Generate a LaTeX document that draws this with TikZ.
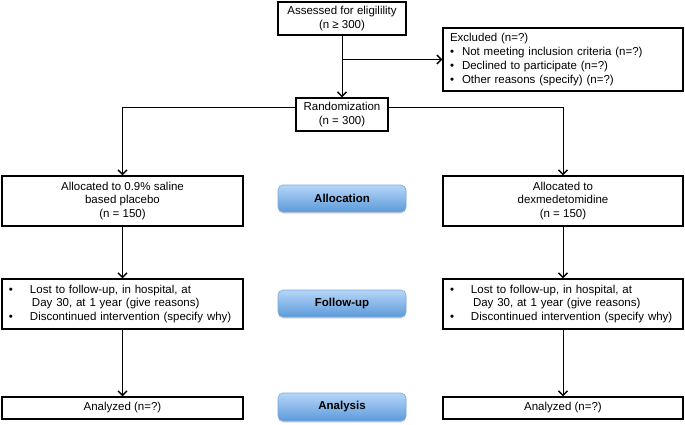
\documentclass[tikz,border=0pt]{standalone}
\usepackage{fontspec}
\setmainfont{Liberation Sans}
\usetikzlibrary{arrows.meta, shadows, positioning}

\definecolor{stagetop}{HTML}{B6D6F7}
\definecolor{stagebot}{HTML}{5C9ADB}
\definecolor{stageedge}{HTML}{7BA9DB}

\newcommand{\exbul}{\makebox[12pt][l]{\textbullet}}
\newcommand{\fubul}{\makebox[21pt][l]{\textbullet}}

\tikzset{
  flowbox/.style={draw, line width=1.4pt, inner sep=0pt, align=center},
  listbox/.style={flowbox, align=left, inner xsep=7pt},
  stagebtn/.style={rounded corners=5pt, draw=stageedge, line width=0.6pt,
    top color=stagetop, bottom color=stagebot,
    font=\fontsize{11.5}{13.8}\selectfont\bfseries,
    minimum width=128pt, minimum height=27pt,
    drop shadow={opacity=0.3, shadow xshift=0pt, shadow yshift=-1.5pt}},
  link/.style={line width=1pt, -{Straight Barb[length=4.5pt, width=9pt, line width=1.3pt]}},
}

\begin{document}
\begin{tikzpicture}[x=1pt, y=-1pt, font=\fontsize{11.5}{13.8}\selectfont]
            \useasboundingbox (0,0) rectangle (685,425);
            % enrolment
            \node[flowbox, minimum width=128pt, minimum height=33pt] (assess) at (342,18.5) {Assessed for eligilility\\(n ≥ 300)};
            \node[listbox, text width=226pt, minimum height=63pt] (excl) at (563,59.5) {Excluded (n=?)\\
                \exbul Not meeting inclusion criteria (n=?)\\
                \exbul Declined to participate (n=?)\\
                \exbul Other reasons (specify) (n=?)};
            \node[flowbox, minimum width=92pt, minimum height=33pt] (rand) at (342,114.5) {Randomization\\(n = 300)};
            \coordinate (splitL) at (122.5,108);
            \coordinate (splitR) at (563,108);
            % allocation
            \node[flowbox, minimum width=241pt, minimum height=50pt] (allocL) at (122.5,201) {Allocated to 0.9\% saline\\based placebo\\(n = 150)};
            \node[flowbox, minimum width=240pt, minimum height=50pt] (allocR) at (563,201) {Allocated to\\dexmedetomidine\\(n = 150)};
            \node[stagebtn] (allocBtn) at (342,198.5) {Allocation};
            % follow-up
            \node[listbox, text width=227pt, minimum height=50pt] (fupL) at (122.5,304) {\fubul Lost to follow-up, in hospital, at\\
                \hspace*{23pt}Day 30, at 1 year (give reasons)\\
                \fubul Discontinued intervention (specify why)};
            \node[listbox, text width=226pt, minimum height=50pt] (fupR) at (563,304) {\fubul Lost to follow-up, in hospital, at\\
                \hspace*{23pt}Day 30, at 1 year (give reasons)\\
                \fubul Discontinued intervention (specify why)};
            \node[stagebtn] (fupBtn) at (342,303.5) {Follow-up};
            % analysis
            \node[flowbox, minimum width=241pt, minimum height=22pt] (anaL) at (122.5,408) {Analyzed (n=?)};
            \node[flowbox, minimum width=240pt, minimum height=22pt] (anaR) at (563,408) {Analyzed (n=?)};
            \node[stagebtn, minimum height=28pt] (anaBtn) at (342,407) {Analysis};
            % connectors
            \draw[link] (assess) -- (rand);
            \draw[link] (assess.south |- excl.west) -- (excl);
            \draw[link] (rand.west |- splitL) -- (splitL) -- (allocL);
            \draw[link] (rand.east |- splitR) -- (splitR) -- (allocR);
            \draw[link] (allocL) -- (fupL);
            \draw[link] (allocR) -- (fupR);
            \draw[link] (fupL) -- (anaL);
            \draw[link] (fupR) -- (anaR);
        \end{tikzpicture}
\end{document}
